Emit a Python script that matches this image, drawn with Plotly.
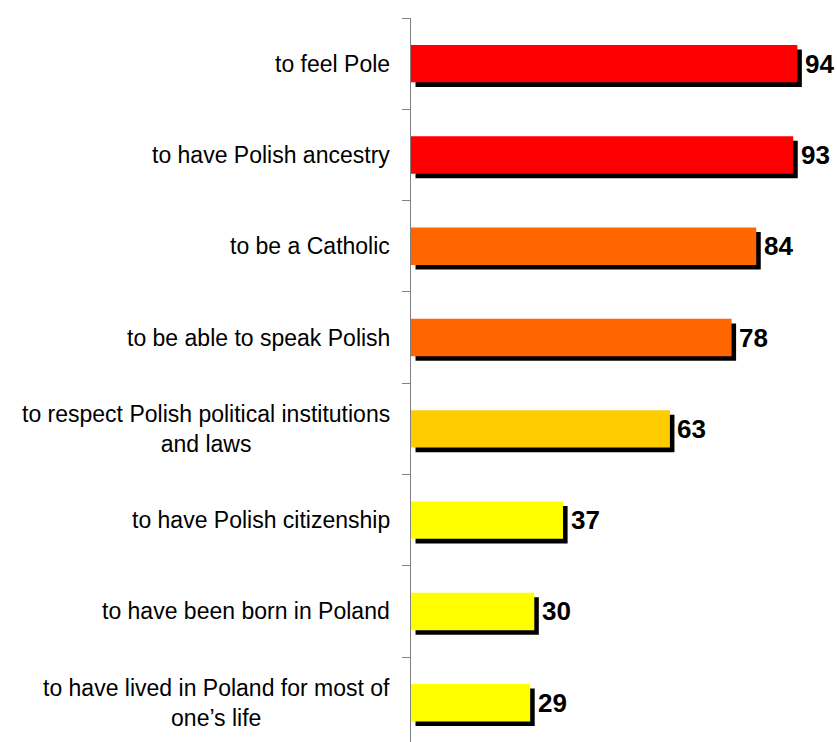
import plotly.graph_objects as go

# dane
categories = [
    "to feel Pole",
    "to have Polish ancestry",
    "to be a Catholic",
    "to be able to speak Polish",
    "to respect Polish political institutions<br>and laws",
    "to have Polish citizenship",
    "to have been born in Poland",
    "to have lived in Poland for most of<br>one\u2019s life",
]
values = [94, 93, 84, 78, 63, 37, 30, 29]
bar_colors = ["#FF0000", "#FF0000", "#FF6600", "#FF6600",
              "#FFCC00", "#FFFF00", "#FFFF00", "#FFFF00"]

BAR_W = 0.41
SHADOW = 1.1  # przesuniecie cienia w jednostkach osi x
FONT = "Arial, Liberation Sans, sans-serif"

fig = go.Figure()

# cien pod slupkami
fig.add_trace(go.Bar(
    y=categories, x=values, base=SHADOW, orientation="h",
    width=BAR_W, offset=-BAR_W / 2 + 0.05,
    marker=dict(color="black", line=dict(width=0)),
    hoverinfo="skip", showlegend=False,
))

# slupki
fig.add_trace(go.Bar(
    y=categories, x=values, orientation="h",
    width=BAR_W, offset=-BAR_W / 2,
    marker=dict(color=bar_colors, line=dict(width=0)),
    showlegend=False,
))

# wartosci
for c, v in zip(categories, values):
    fig.add_annotation(
        x=v + SHADOW, y=c, xref="x", yref="y",
        text="<b>%d</b>" % v, showarrow=False, xanchor="left",
        xshift=1, yshift=0, font=dict(family=FONT, size=26, color="black"),
    )

# etykiety kategorii
for c in categories:
    fig.add_annotation(
        x=0, y=c, xref="paper", yref="y",
        text=c, showarrow=False, xanchor="right", align="center",
        xshift=-19, font=dict(family=FONT, size=23, color="black"),
    )

fig.update_layout(
    barmode="overlay",
    width=837, height=742,
    margin=dict(l=411, r=15, t=18, b=0),
    paper_bgcolor="white", plot_bgcolor="white",
    xaxis=dict(range=[0, 100], visible=False),
    yaxis=dict(
        range=[7.43, -0.5], type="category",
        showticklabels=False, showgrid=False, zeroline=False,
        showline=True, linecolor="#808080", linewidth=1,
        ticks="outside", tickson="boundaries", ticklen=8,
        tickcolor="#808080", tickwidth=1,
    ),
)

fig.write_html("out.html", config={"displayModeBar": False},
               post_script="document.body.style.margin='0px';")
